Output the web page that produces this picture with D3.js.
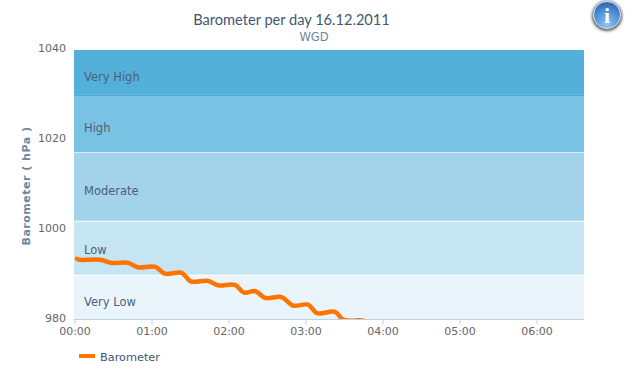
<!DOCTYPE html>
<html><head><meta charset="utf-8">
<script src="https://cdn.jsdelivr.net/npm/d3@7/dist/d3.min.js"></script>
<style>html,body{margin:0;padding:0;background:#fff}svg{display:block}text{font-family:"DejaVu Sans",sans-serif}</style>
</head><body><svg id="c" width="627" height="371"></svg>
<script>
const minutes=[2,4,20,29,42,49.5,63,70.5,83.5,90.5,104,112,125,132,141,148.5,161.5,170,182,189,203,209,215,225,232,240];
const pressure=[993.5,993.3,993.3,992.6,992.6,991.6,991.7,990.2,990.4,988.5,988.6,987.6,987.7,986,986.3,984.8,985,983.1,983.3,981.4,981.7,980,979.75,979.75,978.4,977.5];
const bandNames=["Very Low","Low","Moderate","High","Very High"];
const bandFrom=[980,990,1002,1017.3,1030];
const bandTo=[990,1002,1017.3,1030,1040];
const bandColors=["#E9F5FA","#C5E5F2","#A2D3EA","#79C2E3","#53B0D9"];
const yTicks=[980,1000,1020,1040];
const xTicks=[0,60,120,180,240,300,360];

const x=d3.scaleLinear().domain([0,397]).range([74.5,584]);
const y=d3.scaleLinear().domain([980,1040]).range([319.5,50]);
const fmt=m=>d3.format("02d")(Math.floor(m/60))+":"+d3.format("02d")(m%60);
const svg=d3.select("#c");
const defs=svg.append("defs");
defs.append("clipPath").attr("id","plot").append("rect").attr("x",74).attr("y",50).attr("width",510).attr("height",270);
const g1=defs.append("radialGradient").attr("id","ib").attr("cx","50%").attr("cy","85%").attr("r","85%");
g1.append("stop").attr("offset","0").attr("stop-color","#8fc4f2");
g1.append("stop").attr("offset","0.6").attr("stop-color","#4a8fd9");
g1.append("stop").attr("offset","1").attr("stop-color","#2c62b0");
const blur=defs.append("filter").attr("id","sh").attr("x","-30%").attr("y","-30%").attr("width","160%").attr("height","160%");
blur.append("feGaussianBlur").attr("stdDeviation","1.5");

const bands=bandNames.map((n,i)=>({n,from:bandFrom[i],to:bandTo[i],c:bandColors[i]}));
svg.append("g").selectAll("rect").data(bands).join("rect")
 .attr("x",x(0)-.5).attr("width",510).attr("y",d=>y(d.to)).attr("height",d=>y(d.from)-y(d.to)).attr("fill",d=>d.c);
svg.append("g").selectAll("line").data(bands.slice(0,-1)).join("line")
 .attr("x1",74).attr("x2",584).attr("y1",d=>Math.round(y(d.to))+.5).attr("y2",d=>Math.round(y(d.to))+.5)
 .attr("stroke",(d,i)=>i==3?"#4fabd8":"#ffffff").attr("stroke-opacity",(d,i)=>i==3?1:.6);
svg.append("g").selectAll("text").data(bands).join("text")
 .attr("x",84).attr("y",d=>(y(d.from)+y(d.to))/2+(d.n=="Low"?6.5:8.5)).attr("font-size",11.5).attr("fill","#4d5f78").text(d=>d.n);

const line=d3.line().x((d,i)=>x(minutes[i])).y(d=>y(d)).curve(d3.curveCatmullRom.alpha(0.5));
svg.append("path").datum(pressure).attr("clip-path","url(#plot)").attr("d",line).attr("fill","none")
 .attr("stroke","#FF7300").attr("stroke-width",4.5).attr("stroke-linejoin","round").attr("stroke-linecap","round");

const xa=svg.append("g").attr("transform","translate(0,319.5)").call(d3.axisBottom(x).tickValues(xTicks).tickFormat(fmt).tickSize(5).tickPadding(3));
xa.select(".domain").attr("stroke","#C0D0E0").attr("d","M74,0H584");
xa.selectAll(".tick line").attr("stroke","#C0D0E0");
xa.selectAll("text").attr("font-size",11).attr("fill","#666").style("font-family",'"DejaVu Sans",sans-serif');

const ya=svg.append("g").attr("transform","translate(66,-2)").call(d3.axisLeft(y).tickValues(yTicks).tickFormat(d3.format("d")).tickSize(0).tickPadding(0));
ya.select(".domain").remove();
ya.selectAll("text").attr("font-size",11).attr("fill","#666").style("font-family",'"DejaVu Sans",sans-serif');

svg.append("text").attr("x",291.5).attr("y",25).attr("text-anchor","middle").attr("font-size",14.6).attr("fill","#3E576F").style("font-family",'Lato,sans-serif').text("Barometer per day 16.12.2011");
svg.append("text").attr("x",314).attr("y",41).attr("text-anchor","middle").attr("font-size",11.5).attr("fill","#6D869F").text("WGD");
svg.append("text").attr("transform","translate(30,186) rotate(-90)").attr("text-anchor","middle").attr("font-size",11).attr("font-weight","bold").attr("letter-spacing",".5").attr("fill","#6D869F").text("Barometer ( hPa )");

svg.append("line").attr("x1",79).attr("x2",95).attr("y1",356).attr("y2",356).attr("stroke","#FF7300").attr("stroke-width",4);
svg.append("text").attr("x",100).attr("y",361).attr("font-size",11.3).attr("fill","#3E576F").text("Barometer");

const ic=svg.append("g").attr("transform","translate(607,15)");
ic.append("circle").attr("r",15).attr("cy",1).attr("fill","#555").attr("filter","url(#sh)");
ic.append("circle").attr("r",13.5).attr("fill","url(#ib)").attr("stroke","#dfe9f5").attr("stroke-width",1);
ic.append("text").attr("text-anchor","middle").attr("y",8).attr("font-size",22).attr("font-weight","bold").attr("fill","#fff").style("font-family",'"Liberation Serif",serif').text("i");
</script></body></html>
